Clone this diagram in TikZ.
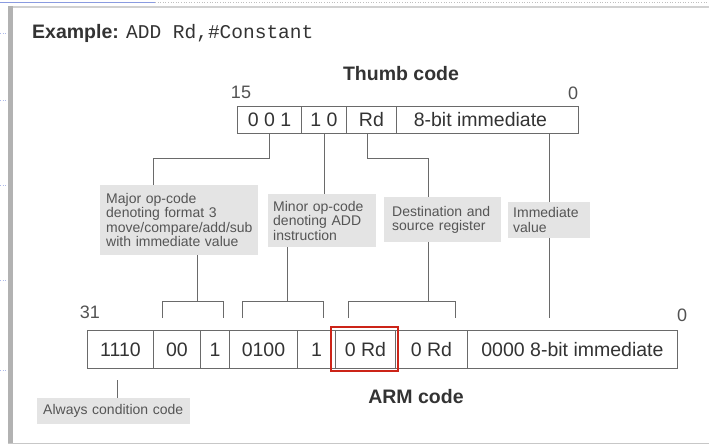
\documentclass[tikz,border=0pt]{standalone}
\usepackage{fontspec}
\setmainfont{Liberation Sans}
\setmonofont{Liberation Mono}
\usetikzlibrary{calc}
\definecolor{ink}{HTML}{333333}
\definecolor{rule}{HTML}{6A6A6A}
\definecolor{notefill}{HTML}{E4E4E4}
\definecolor{notetext}{HTML}{555555}
\definecolor{hilite}{HTML}{CC2418}
\definecolor{slideblue}{HTML}{8A9BE0}
\tikzset{
  bitfield/.style={draw=rule, line width=0.9pt, inner sep=0pt, anchor=north west,
    text=ink, font=\fontsize{19.5}{20}\selectfont},
  thumbfield/.style={bitfield, minimum height=27},
  armfield/.style={bitfield, minimum height=38},
  heading/.style={text=ink, font=\bfseries\fontsize{19.5}{20}\selectfont, inner sep=0pt},
  bitno/.style={text=ink!85, font=\fontsize{18}{18}\selectfont, inner sep=0pt},
  note/.style={fill=notefill, inner ysep=0pt, anchor=north west, align=left,
    text=notetext, font=\fontsize{14}{14.5}\selectfont},
  conn/.style={draw=rule, line width=0.9pt},
}
\begin{document}
\begin{tikzpicture}[x=1pt,y=-1pt]
\useasboundingbox (0,0) rectangle (709,446);

% slide frame
\fill[white] (0,0) rectangle (709,446);
\draw[slideblue, line width=0.8pt] (0,2) -- (155,2);
\draw[black!25, dotted, line width=0.6pt] (155,2) -- (709,2);
\foreach \yy in {33,100,185,280,370}
  \draw[slideblue!70, dotted, line width=0.6pt] (0,\yy) -- (8,\yy);
\fill[black!30] (8,6) rectangle (13,444);
\fill[black!18] (13,6) rectangle (715,8);
\draw[black!22, line width=1pt] (8,443) -- (715,443);

% title
\node[anchor=west, inner sep=0pt, text=ink, font=\fontsize{19.5}{20}\selectfont] (title) at (32,33)
  {\textbf{Example:} \texttt{ADD Rd,\#Constant}};

% Thumb instruction word
\node[heading] (thumb) at (401,74) {Thumb code};
\node[bitno] (t15) at (241,92) {15};
\node[bitno] (t0) at (573,93) {0};
\node[thumbfield, minimum width=64] (t1) at (237,106) {0 0 1};
\node[thumbfield, minimum width=45] (t2) at (301,106) {1 0};
\node[thumbfield, minimum width=50] (t3) at (346,106) {Rd};
\node[thumbfield, minimum width=182] (t4) at (396,106) {8-bit immediate\hspace*{14pt}};

% explanatory notes
\node[note, inner xsep=6pt, text width=146pt, minimum height=70] (major) at (100,185)
  {Major op-code\\denoting format 3\\move/compare/add/sub\\with immediate value};
\node[note, inner xsep=5pt, text width=98pt, minimum height=53] (minor) at (268,194)
  {Minor op-code\\denoting ADD\\instruction};
\node[note, inner xsep=8pt, text width=101pt, minimum height=45] (dest) at (384,197)
  {Destination and\\source register};
\node[note, inner xsep=5pt, text width=72pt, minimum height=36] (imm) at (508,202)
  {Immediate\\value};
\node[note, inner xsep=6pt, text width=141pt, minimum height=26] (always) at (37,398)
  {Always condition code};

% ARM instruction word
\node[bitno] (a31) at (90,312) {31};
\node[bitno] (a0) at (682,315) {0};
\node[armfield, minimum width=66] (a1) at (87,330) {1110};
\node[armfield, minimum width=47] (a2) at (153,330) {00};
\node[armfield, minimum width=29] (a3) at (200,330) {1};
\node[armfield, minimum width=68] (a4) at (229,330) {0100};
\node[armfield, minimum width=38] (a5) at (297,330) {1};
\node[armfield, minimum width=60] (a6) at (335,330) {0 Rd};
\node[armfield, minimum width=72] (a7) at (395,330) {0 Rd};
\node[armfield, minimum width=210] (a8) at (467,330) {0000 8-bit immediate};
\node[heading] (arm) at (416,397) {ARM code};
\node[draw=hilite, line width=2.4pt, inner sep=0pt, minimum width=67, minimum height=44,
  anchor=north west] (mark) at (330,326) {};

% Thumb fields to notes
\coordinate (majtop) at (153,185);
\coordinate (desttop) at (428,197);
\draw[conn] (t1.south) -- ++(0,25) -| (majtop);
\draw[conn] (t2.south) -- (t2.south |- minor.north);
\draw[conn] ([xshift=-4pt]t3.south) -- ++(0,25) -| (desttop);
\draw[conn] (imm.north |- t4.south) -- (imm.north);

% notes to ARM fields
\coordinate (majbr) at (197,301);
\coordinate (minbr) at (287,301);
\coordinate (destbr) at (428,301);
\draw[conn] (major.south -| majbr) -- (majbr);
\draw[conn] (162,318) -- (162,301) -- (223,301) -- (223,318);
\draw[conn] (minor.south -| minbr) -- (minbr);
\draw[conn] (242,318) -- (242,301) -- (323,301) -- (323,318);
\draw[conn] (dest.south -| destbr) -- (destbr);
\draw[conn] (348,318) -- (348,301) -- (455,301) -- (455,318);
\draw[conn] (imm.south) -- ([yshift=12pt]imm.south |- a8.north);
\coordinate (alwtop) at (117,380);
\draw[conn] (alwtop) -- (alwtop |- always.north);
\end{tikzpicture}
\end{document}
